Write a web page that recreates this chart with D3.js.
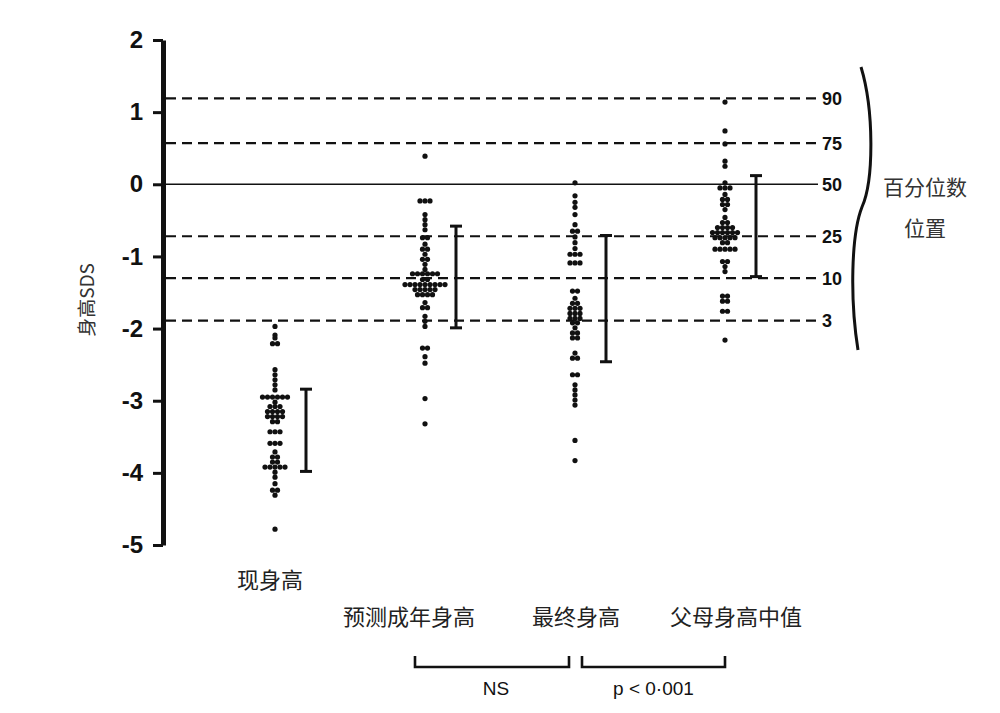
<!DOCTYPE html>
<html>
<head>
<meta charset="utf-8">
<script src="https://cdn.jsdelivr.net/npm/d3@7"></script>
<style>
  html, body { margin: 0; padding: 0; background: #fff; }
  svg { display: block; }
</style>
</head>
<body>
<svg id="chart" width="1000" height="713"></svg>
<script>
// ---------------- DATA ----------------
const categories = ["现身高", "预测成年身高", "最终身高", "父母身高中值"];

const yTickValues = [2, 1, 0, -1, -2, -3, -4, -5];
const yTickLabels = ["2", "1", "0", "-1", "-2", "-3", "-4", "-5"];

const percentileValues = [1.19, 0.57, 0, -0.72, -1.30, -1.89];
const percentileLabels = ["90", "75", "50", "25", "10", "3"];

const currentHeight = [
  -1.97, -2.09, -2.13, -2.21, -2.21, -2.57, -2.64, -2.71, -2.78, -2.85,
  -2.95, -2.95, -2.95, -2.95, -2.95, -2.95, -3.02,
  -3.08, -3.08, -3.08, -3.15, -3.15, -3.15, -3.15,
  -3.22, -3.22, -3.22, -3.22, -3.29, -3.29,
  -3.43, -3.43, -3.43, -3.59, -3.59, -3.59,
  -3.71, -3.78, -3.78, -3.85, -3.85,
  -3.92, -3.92, -3.92, -3.92, -3.92, -3.99, -4.06, -4.15,
  -4.24, -4.24, -4.31, -4.78
];

const predictedAdultHeight = [
  0.39, -0.23, -0.23, -0.23, -0.42, -0.49, -0.56, -0.63,
  -0.74, -0.74, -0.83, -0.90, -0.90, -0.97, -1.04, -1.04, -1.11, -1.18,
  -1.24, -1.24, -1.24, -1.24, -1.24, -1.24, -1.32, -1.32,
  -1.39, -1.39, -1.39, -1.39, -1.39, -1.39, -1.39, -1.39, -1.39,
  -1.46, -1.46, -1.46, -1.46, -1.46, -1.53, -1.53, -1.53, -1.53,
  -1.64, -1.71, -1.71, -1.83, -1.90, -1.97,
  -2.27, -2.27, -2.39, -2.48, -2.97, -3.32
];

const finalHeight = [
  0.02, -0.16, -0.25, -0.32, -0.42, -0.56, -0.65, -0.65, -0.73, -0.81, -0.89,
  -0.97, -0.97, -0.97, -1.09, -1.09, -1.09,
  -1.48, -1.48, -1.58, -1.65, -1.65, -1.72, -1.72, -1.72,
  -1.79, -1.79, -1.79, -1.86, -1.86, -1.86, -1.92, -1.92, -1.99,
  -2.06, -2.06, -2.13, -2.13, -2.34, -2.41, -2.41,
  -2.64, -2.64, -2.78, -2.85, -2.92, -2.99, -3.06, -3.55, -3.83
];

const midParentalHeight = [
  1.14, 0.74, 0.56, 0.32, 0.25, 0.02, -0.05, -0.05, -0.05, -0.14,
  -0.21, -0.21, -0.28, -0.28, -0.35, -0.46, -0.53, -0.53,
  -0.60, -0.60, -0.60, -0.60, -0.67, -0.67, -0.67, -0.67, -0.67, -0.67,
  -0.74, -0.74, -0.74, -0.74, -0.74, -0.81, -0.81,
  -0.90, -0.90, -0.90, -0.90, -0.90, -1.07, -1.07, -1.14, -1.21,
  -1.55, -1.55, -1.62, -1.62, -1.76, -1.76, -2.16
];

const seriesValues = [currentHeight, predictedAdultHeight, finalHeight, midParentalHeight];

// mean ± SD bars (upper / lower ends, SDS)
const barUpper = [-2.84, -0.58, -0.71, 0.12];
const barLower = [-3.98, -1.99, -2.46, -1.28];

const comparisonLabels = ["NS", "p < 0·001"];
const rightNote = ["百分位数", "位置"];
const yTitle = "身高SDS";

// ---------------- LAYOUT ----------------
const svg = d3.select("#chart");
const cjk = "'Noto Sans CJK SC', 'Noto Sans', sans-serif";
const latin = "'Liberation Sans', Arial, sans-serif";

const y = d3.scaleLinear().domain([-5, 2]).range([545, 40]);
const x = d3.scalePoint().domain(categories).range([275, 725]);

const axisX = 163;
const lineX0 = 166, lineX1 = 818;

// percentile reference lines
const pg = svg.append("g");
percentileValues.forEach((v, i) => {
  pg.append("line")
    .attr("x1", lineX0).attr("x2", lineX1)
    .attr("y1", y(v)).attr("y2", y(v))
    .attr("stroke", "#111")
    .attr("stroke-width", v === 0 ? 1.6 : 2.2)
    .attr("stroke-dasharray", v === 0 ? null : "10,6");
  pg.append("text")
    .attr("x", lineX1 + 4).attr("y", y(v))
    .attr("dy", "0.36em")
    .attr("font-family", latin).attr("font-weight", "bold")
    .attr("font-size", 18).attr("fill", "#111")
    .text(percentileLabels[i]);
});

// y axis
const axis = d3.axisLeft(y)
  .tickValues(yTickValues)
  .tickFormat((d, i) => yTickLabels[i])
  .tickSize(10).tickSizeOuter(0).tickPadding(10);
const ag = svg.append("g").attr("transform", `translate(${axisX},0)`).call(axis);
ag.select(".domain").attr("stroke", "#111").attr("stroke-width", 5);
ag.selectAll(".tick line").attr("stroke", "#111").attr("stroke-width", 3);
ag.selectAll(".tick text")
  .attr("font-family", latin).attr("font-weight", "bold")
  .attr("font-size", 24).attr("fill", "#111");

// y title
svg.append("text")
  .attr("transform", "translate(94,300) rotate(-90)")
  .attr("text-anchor", "middle")
  .attr("font-family", cjk).attr("font-size", 19).attr("fill", "#333")
  .text(yTitle);

// dots
const dotR = 2.6, dotStep = 5;
seriesValues.forEach((vals, gi) => {
  const counts = d3.rollup(vals, v => v.length, d => d);
  const seen = new Map();
  const pts = vals.map(v => {
    const n = counts.get(v);
    const k = seen.get(v) || 0;
    seen.set(v, k + 1);
    return { v, off: (k - (n - 1) / 2) * dotStep };
  });
  svg.append("g").selectAll("circle").data(pts).join("circle")
    .attr("cx", d => x(categories[gi]) + d.off)
    .attr("cy", d => y(d.v))
    .attr("r", dotR)
    .attr("fill", "#111");
});

// mean ± SD bars
const barDx = 31, capW = 12;
const bg = svg.append("g").attr("stroke", "#111").attr("stroke-width", 3);
categories.forEach((c, i) => {
  const bx = x(c) + barDx;
  bg.append("line").attr("x1", bx).attr("x2", bx).attr("y1", y(barUpper[i])).attr("y2", y(barLower[i]));
  bg.append("line").attr("x1", bx - capW / 2).attr("x2", bx + capW / 2).attr("y1", y(barUpper[i])).attr("y2", y(barUpper[i]));
  bg.append("line").attr("x1", bx - capW / 2).attr("x2", bx + capW / 2).attr("y1", y(barLower[i])).attr("y2", y(barLower[i]));
});

// category labels
const labelDx = [-5, -16, 1, 11];
const labelY = [580, 617, 617, 617];
categories.forEach((c, i) => {
  svg.append("text")
    .attr("x", x(c) + labelDx[i]).attr("y", labelY[i])
    .attr("dy", "0.36em")
    .attr("text-anchor", "middle")
    .attr("font-family", cjk).attr("font-size", 22).attr("fill", "#222")
    .text(c);
});

// comparison brackets
const brackets = [
  { a: 1, b: 2, x0: -10, x1: -6 },
  { a: 2, b: 3, x0: 7, x1: 0 }
];
brackets.forEach((br, i) => {
  const xa = x(categories[br.a]) + br.x0;
  const xb = x(categories[br.b]) + br.x1;
  svg.append("path")
    .attr("d", `M${xa},656 V667 H${xb} V656`)
    .attr("fill", "none").attr("stroke", "#111").attr("stroke-width", 2.6);
  svg.append("text")
    .attr("x", (xa + xb) / 2 + (i === 0 ? 4 : 0)).attr("y", 688)
    .attr("dy", "0.36em").attr("text-anchor", "middle")
    .attr("font-family", latin).attr("font-size", 19).attr("fill", "#111")
    .text(comparisonLabels[i]);
});

// brace on the right
svg.append("path")
  .attr("d", "M861,67 C874,110 874,180 862,207 C851,235 850,300 858,350")
  .attr("fill", "none").attr("stroke", "#111").attr("stroke-width", 3);

rightNote.forEach((t, i) => {
  svg.append("text")
    .attr("x", 925).attr("y", i === 0 ? 187 : 228)
    .attr("dy", "0.36em").attr("text-anchor", "middle")
    .attr("font-family", cjk).attr("font-size", 21).attr("fill", "#333")
    .text(t);
});
</script>
</body>
</html>
